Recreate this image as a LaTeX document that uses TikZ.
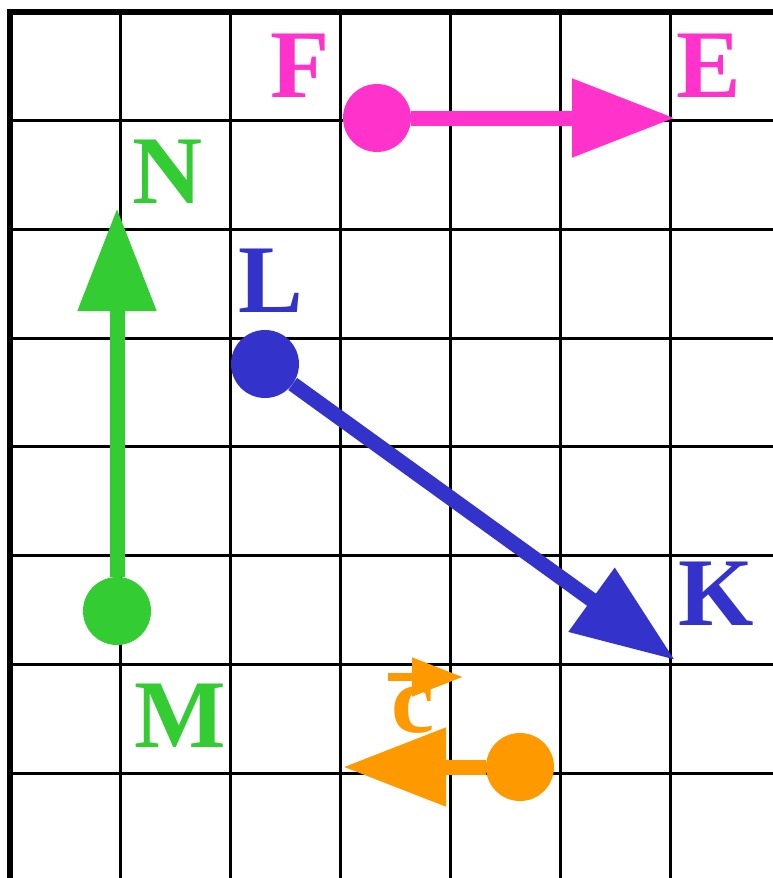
\documentclass[tikz,border=0pt]{standalone}
\usepackage{fontspec}
\setmainfont{Liberation Serif}
\usetikzlibrary{arrows.meta}
\definecolor{cpink}{RGB}{255,51,204}
\definecolor{cgreen}{RGB}{51,204,51}
\definecolor{cblue}{RGB}{51,51,204}
\definecolor{corange}{RGB}{255,153,0}
\begin{document}
\begin{tikzpicture}[x=1pt,y=-1pt,
  gridline/.style={line width=3pt,black},
  border/.style={line width=6pt,black,line join=miter},
  dot/.style={circle,fill=#1,minimum size=68pt,inner sep=0pt,draw=none},
  vec/.style={line width=15pt,draw=#1,-{Triangle[length=103pt,width=75pt]}},
  lbl/.style={text=#1,font=\fontsize{97}{100}\selectfont\bfseries,anchor=base,inner sep=0pt}]
\useasboundingbox (0,0) rectangle (773,878);
\fill[white] (0,0) rectangle (773,878);
% grid
\foreach \x in {120,230,340,450,560,670} \draw[gridline] (\x,12) -- (\x,878);
\foreach \y in {120,229,338,446,555,664,773} \draw[gridline] (10,\y) -- (773,\y);
\draw[border] (10,878) -- (10,12) -- (773,12);
% dots
\node[dot=cpink] (F0) at (377,118) {};
\node[dot=cgreen] (M0) at (117,611) {};
\node[dot=cblue] (L0) at (265,364) {};
\node[dot=corange] (C0) at (520,767) {};
% tips
\coordinate (Etip) at (675,118);
\coordinate (Ntip) at (117,208);
\coordinate (Ktip) at (675,660);
\coordinate (Ctip) at (343,767);
% arrows
\draw[vec=cpink] (F0) -- (Etip);
\draw[vec=cgreen] (M0) -- (Ntip);
\draw[vec=cblue] (L0) -- (Ktip);
\draw[vec=corange] (C0) -- (Ctip);
% labels
\node[lbl=cpink] (F) at (300,97) {F};
\node[lbl=cpink] (E) at (709,97) {E};
\node[lbl=cgreen] (N) at (168,203) {N};
\node[lbl=cgreen] (M) at (180,747) {M};
\node[lbl=cblue] (L) at (271,312) {L};
\node[lbl=cblue] (K) at (716,625) {K};
\node[lbl=corange] (c) at (413,732) {c};
\coordinate (cvs) at (388,677);
\coordinate (cve) at (463,677);
\draw[corange,line width=8pt,-{Triangle[length=51pt,width=37pt]}] (cvs) -- (cve);
\end{tikzpicture}
\end{document}
